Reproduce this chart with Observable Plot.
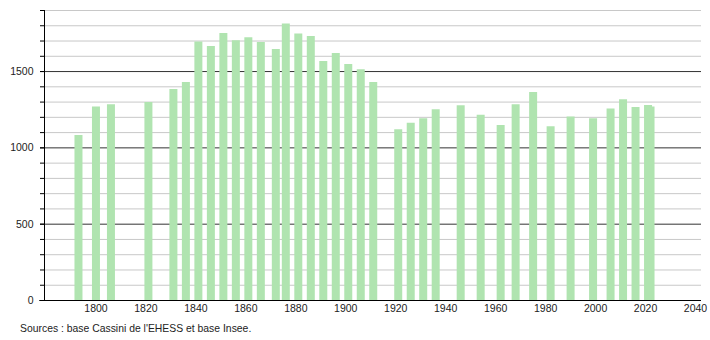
<!DOCTYPE html>
<html><head><meta charset="utf-8">
<script src="https://cdn.jsdelivr.net/npm/d3@7"></script>
<script src="https://cdn.jsdelivr.net/npm/@observablehq/plot@0.6"></script>
<style>
body{margin:0;background:#fff;font-family:"Liberation Sans",Arial,sans-serif;}
#cap{font-size:10.4px;line-height:14px;color:#222;padding:7px 0 0 20px;}
</style></head><body>
<div id="chart"></div>
<div id="cap">Sources : base Cassini de l'EHESS et base Insee.</div>
<script>
const years = [1793,1800,1806,1821,1831,1836,1841,1846,1851,1856,1861,1866,1872,1876,1881,1886,1891,1896,1901,1906,1911,1921,1926,1931,1936,1946,1954,1962,1968,1975,1982,1990,1999,2006,2011,2016,2021,2022];
const population = [1081,1268,1283,1298,1382,1428,1693,1664,1750,1702,1721,1691,1645,1811,1746,1730,1566,1618,1546,1511,1428,1118,1162,1191,1250,1276,1213,1147,1283,1362,1138,1202,1191,1254,1316,1265,1278,1268];
const xTicks = [1800,1820,1840,1860,1880,1900,1920,1940,1960,1980,2000,2020,2040];
const yLabelTicks = [0,500,1000,1500];
const gridValues = d3.range(100,1901,100);
const source = "Sources : base Cassini de l'EHESS et base Insee.";

const data = years.map((y,i)=>({year:y, pop:population[i]}));
const light = gridValues.filter(v=>v%500!==0);
const dark = gridValues.filter(v=>v%500===0);

const chart = Plot.plot({
  width:710, height:315,
  marginLeft:44, marginRight:9, marginTop:10, marginBottom:15,
  style:{fontFamily:"Liberation Sans, Arial, sans-serif", fontSize:"10.5px", color:"#222", background:"#fff"},
  x:{domain:[1779.4,2042.4], axis:null},
  y:{domain:[0,1900], axis:null},
  marks:[
    Plot.ruleY(light,{stroke:"#c8c8c8", strokeWidth:1}),
    Plot.ruleY(dark,{stroke:"#333", strokeWidth:1}),
    Plot.ruleX(data,{x:"year", y1:0, y2:"pop", stroke:"#b0e4b0", strokeWidth:8}),
    Plot.axisY(gridValues,{label:null, tickSize:4, tickFormat:()=>"", stroke:"#000"}),
    Plot.axisY(yLabelTicks,{label:null, tickSize:4, tickPadding:7, tickFormat:d=>String(d), stroke:"#000", fill:"#222"}),
    Plot.ruleX([1779.4],{y1:0,y2:1900,stroke:"#000"}),
    Plot.ruleY([0],{x1:1777.5,x2:2042.4,stroke:"#000"}),
    Plot.axisX(xTicks,{label:null, tickSize:0, tickPadding:4, tickFormat:d=>String(d), fill:"#222"})
  ]
});
document.getElementById("chart").appendChild(chart);
</script>
</body></html>
